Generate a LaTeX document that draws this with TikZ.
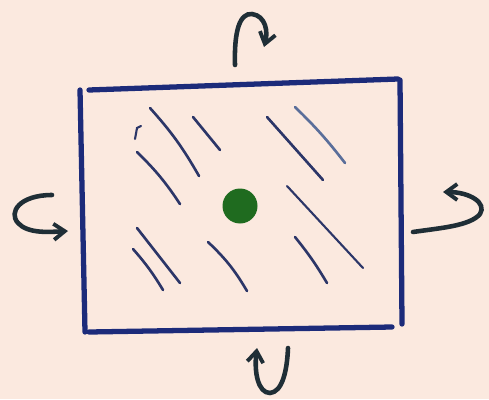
\documentclass[tikz,border=0pt]{standalone}
\usepackage{tikz}
\usetikzlibrary{arrows.meta}
\definecolor{Paper}{HTML}{FBE9DF}
\definecolor{FrameBlue}{HTML}{1C2B7A}
\definecolor{Hatch}{HTML}{2C3668}
\definecolor{HatchLight}{HTML}{5A6E9A}
\definecolor{Ink}{HTML}{1F2E36}
\definecolor{Pivot}{HTML}{1F6B1F}

\begin{document}
\begin{tikzpicture}[x=0.02cm,y=-0.02cm,
    frame/.style={draw=FrameBlue,line width=3pt,line cap=round},
    hatch/.style={draw=Hatch,line width=1.5pt,line cap=round},
    turn/.style={draw=Ink,line width=2.6pt,line cap=round,
                 -{Straight Barb[length=2.2mm,width=3.2mm,line width=2.2pt]}}]
    \fill[Paper] (0,0) rectangle (489,399);
    \useasboundingbox (0,0) rectangle (489,399);
    % plate, four separate strokes
    \draw[frame] (80,90) -- (85,332);
    \draw[frame] (89,90) -- (398,79);
    \draw[frame] (400,80) -- (402,324);
    \draw[frame] (89,332) -- (392,327);
    % surface strokes
    \draw[hatch] (150,108) to[bend left=6] (199,176);
    \draw[hatch] (193,117) -- (220,150);
    \draw[hatch,line width=1.2pt] (135,139) -- (137,128) -- (141,126);
    \draw[hatch] (137,152) to[bend left=6] (180,204);
    \draw[hatch] (267,117) -- (323,180);
    \draw[hatch,draw=HatchLight] (295,107) to[bend left=4] (345,163);
    \draw[hatch,line width=1.2pt] (287,186) -- (363,268);
    \draw[hatch] (137,228) -- (180,283);
    \draw[hatch] (133,249) to[bend left=5] (163,290);
    \draw[hatch] (208,242) to[bend left=8] (247,291);
    \draw[hatch] (295,237) to[bend left=4] (327,283);
    % pivot point
    \node[circle,fill=Pivot,inner sep=0pt,minimum width=0.7cm,
          minimum height=0.64cm] (pivot) at (240,206) {};
    % rotation marks
    \draw[turn] (235,65) .. controls (234,30) and (240,13) .. (252,14)
        .. controls (266,16) and (268,32) .. (264,47);
    \draw[turn] (52,195) .. controls (20,195) and (8,212) .. (18,223)
        .. controls (28,234) and (50,232) .. (68,231);
    \draw[turn] (413,232) .. controls (440,228) and (470,226) .. (480,214)
        .. controls (487,203) and (470,192) .. (443,192);
    \draw[turn] (288,348) .. controls (287,372) and (282,392) .. (270,393)
        .. controls (258,393) and (254,372) .. (257,348);
\end{tikzpicture}
\end{document}
